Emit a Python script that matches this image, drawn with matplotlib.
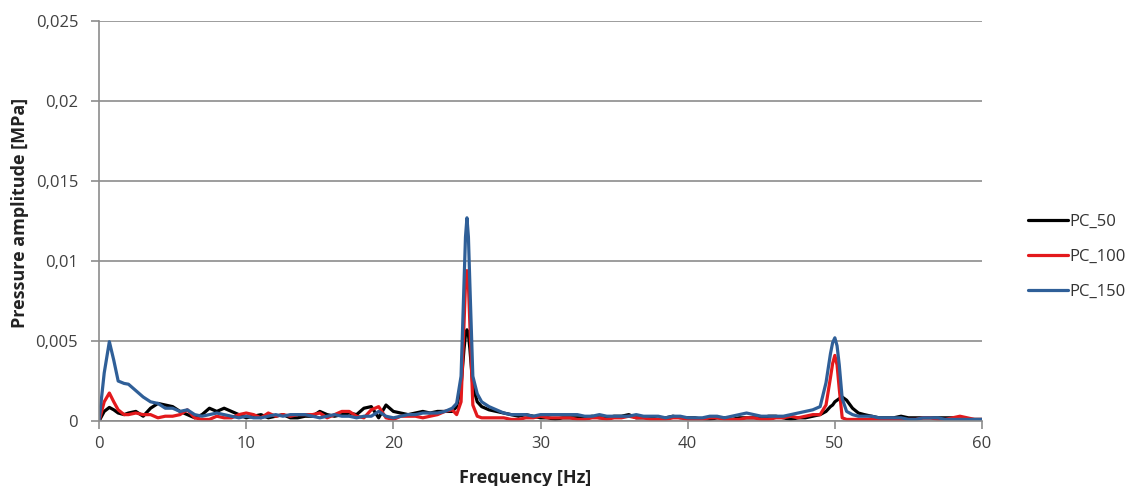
import matplotlib
matplotlib.use("Agg")
import matplotlib.pyplot as plt
from matplotlib.ticker import FuncFormatter

# frequency grid [Hz]
freq = [0, 0.35, 0.7, 1.0, 1.3, 1.7, 2.0, 2.5, 3.0, 3.5, 4.0, 4.5, 5.0, 5.5, 6.0, 6.5, 7.0, 7.5, 8.0, 8.5, 9.0, 9.5, 10.0,
        10.5, 11, 11.5, 12, 12.5, 13, 13.5, 14, 14.5, 15, 15.5, 16, 16.5, 17, 17.5, 18, 18.5, 19, 19.5, 20,
        20.5, 21, 21.5, 22, 22.5, 23, 23.5,
        24.0, 24.3, 24.6, 24.8, 24.9, 25.0, 25.1, 25.2, 25.4, 25.7, 26.0, 26.5, 27.0,
        27.5, 28, 28.5, 29, 29.5, 30, 30.5, 31, 31.5, 32, 32.5, 33, 33.5, 34, 34.5, 35, 35.5, 36, 36.5, 37,
        37.5, 38, 38.5, 39, 39.5, 40, 40.5, 41, 41.5, 42, 42.5, 43, 43.5, 44, 44.5, 45, 45.5, 46, 46.5, 47,
        47.5, 48, 48.5,
        49.0, 49.4, 49.7, 49.85, 50.0, 50.15, 50.3, 50.5, 50.8, 51.2, 51.6, 52.0,
        52.5, 53, 53.5, 54, 54.5, 55, 55.5, 56, 56.5, 57, 57.5, 58, 58.5, 59, 59.5, 60]

pc_50 = [0, .0006, .00085, .0007, .0005, .0004, .0005, .0006, .0003, .0008, .0011, .0010, .0009, .0006, .0004, .0002, .0004, .0008, .0006, .0008, .0006, .0004, .0002,
         .0003, .0004, .0002, .0003, .0004, .0002, .0002, .0003, .0003, .0006, .0004, .0003, .0004, .0005, .0004, .0008, .0009, .0002, .0010, .0006,
         .0005, .0004, .0005, .0006, .0005, .0006, .0006,
         .0006, .0009, .0022, .0045, .0054, .0057, .0054, .0045, .0022, .0012, .0009, .0007, .0006,
         .0005, .0004, .0003, .0004, .0003, .0002, .0002, .0001, .0002, .0002, .0002, .0002, .0003, .0002, .0002, .0003, .0003, .0004, .0002, .0002,
         .0002, .0001, .0002, .0003, .0002, .0002, .0002, .0001, .0001, .0002, .0002, .0001, .0002, .0002, .0002, .0002, .0003, .0003, .0002, .0001,
         .0002, .0002, .0003,
         .0004, .0006, .0009, .0010, .0012, .0013, .0014, .0015, .0013, .0008, .0005, .0004,
         .0003, .0002, .0002, .0002, .0003, .0002, .0002, .0002, .0002, .0002, .0002, .0002, .0001, .0001, .0001, .0001]

pc_100 = [0, .0012, .00175, .0012, .0007, .0004, .0004, .0005, .0004, .0004, .0002, .0003, .0003, .0004, .0007, .0002, .0001, .0001, .0003, .0002, .0002, .0004, .0005,
          .0004, .0002, .0005, .0003, .0004, .0003, .0004, .0004, .0004, .0005, .0002, .0004, .0006, .0006, .0003, .0002, .0007, .0009, .0002, .0001,
          .0003, .0003, .0003, .0002, .0003, .0004, .0006,
          .0007, .0004, .0012, .0060, .0085, .0094, .0085, .0060, .0010, .0003, .0002, .0002, .0002,
          .0002, .0001, .0001, .0002, .0002, .0003, .0002, .0002, .0002, .0002, .0001, .0001, .0002, .0002, .0001, .0002, .0002, .0003, .0002, .0002,
          .0001, .0001, .0001, .0002, .0002, .0001, .0001, .0001, .0002, .0002, .0001, .0001, .0001, .0002, .0002, .0001, .0001, .0002, .0002, .0003,
          .0002, .0003, .0004,
          .0004, .0010, .0027, .0036, .0041, .0035, .0020, .0002, .0001, .0001, .0001, .0001,
          .0001, .0001, .0001, .0001, .0001, .0001, .0001, .0002, .0002, .0001, .0001, .0002, .0003, .0002, .0001, .0001]

pc_150 = [0, .0030, .00496, .0038, .0025, .00235, .0023, .0019, .0015, .0012, .0011, .0008, .0008, .0006, .0007, .0004, .0003, .0004, .0005, .0004, .0003, .0002, .0003,
          .0002, .0002, .0003, .0004, .0003, .0004, .0004, .0004, .0003, .0002, .0003, .0004, .0003, .0003, .0002, .0003, .0003, .0006, .0003, .0002,
          .0003, .0004, .0004, .0005, .0005, .0005, .0006,
          .0008, .0011, .0028, .0085, .0115, .0127, .0115, .0085, .0028, .0017, .0012, .0009, .0007,
          .0005, .0004, .0004, .0004, .0003, .0004, .0004, .0004, .0004, .0004, .0004, .0003, .0003, .0004, .0003, .0003, .0003, .0003, .0004, .0003,
          .0003, .0003, .0002, .0003, .0003, .0002, .0002, .0002, .0003, .0003, .0002, .0003, .0004, .0005, .0004, .0003, .0003, .0003, .0003, .0004,
          .0005, .0006, .0007,
          .0009, .0024, .0042, .0049, .0052, .0047, .0035, .0014, .0006, .0004, .0003, .0003,
          .0003, .0002, .0002, .0002, .0002, .0001, .0001, .0002, .0002, .0002, .0001, .0001, .0001, .0001, .0001, .0001]

series = [("PC_50", pc_50, "#000000"),
          ("PC_100", pc_100, "#e3191c"),
          ("PC_150", pc_150, "#2f5f98")]

plt.rcParams['font.family'] = ['Open Sans', 'DejaVu Sans']

fig = plt.figure(figsize=(11.32, 4.86), dpi=100)
ax = fig.add_axes([0.0875, 0.1337, 0.78, 0.8231])

for name, vals, col in series:
    ax.plot(freq, vals, color=col, lw=2.3, label=name, solid_joinstyle='round', solid_capstyle='round')

ax.set_xlim(0, 60)
ax.set_ylim(0, 0.025)
ax.set_xticks([0, 10, 20, 30, 40, 50, 60])
ax.set_yticks([0, 0.005, 0.01, 0.015, 0.02, 0.025])
ax.yaxis.set_major_formatter(FuncFormatter(lambda v, p: "0" if v == 0 else ("%g" % v).replace(".", ",")))

ax.grid(axis='y', color='#8c8c8c', lw=1.2)
ax.set_axisbelow(True)
for s in ['top', 'right']:
    ax.spines[s].set_visible(False)
for s in ['left', 'bottom']:
    ax.spines[s].set_color('#8c8c8c')
    ax.spines[s].set_linewidth(1.2)
ax.tick_params(axis='both', colors='#8c8c8c', labelcolor='#404040', labelsize=12, length=6, width=1.2)
ax.tick_params(axis='y', pad=9)
ax.tick_params(axis='x', pad=5)

ax.set_xlabel("Frequency [Hz]", fontsize=13, fontweight='bold', color='#222222')
ax.xaxis.set_label_coords(0.482, -0.12)
ax.set_ylabel("Pressure amplitude [MPa]", fontsize=13, fontweight='bold', color='#222222')
ax.yaxis.set_label_coords(-0.079, 0.52)

ax.legend(loc='center left', bbox_to_anchor=(1.035, 0.41), frameon=False, fontsize=12,
          handlelength=2.4, handletextpad=0.1, labelspacing=1.15, labelcolor='#333333')

fig.savefig("out.png", dpi=100)
